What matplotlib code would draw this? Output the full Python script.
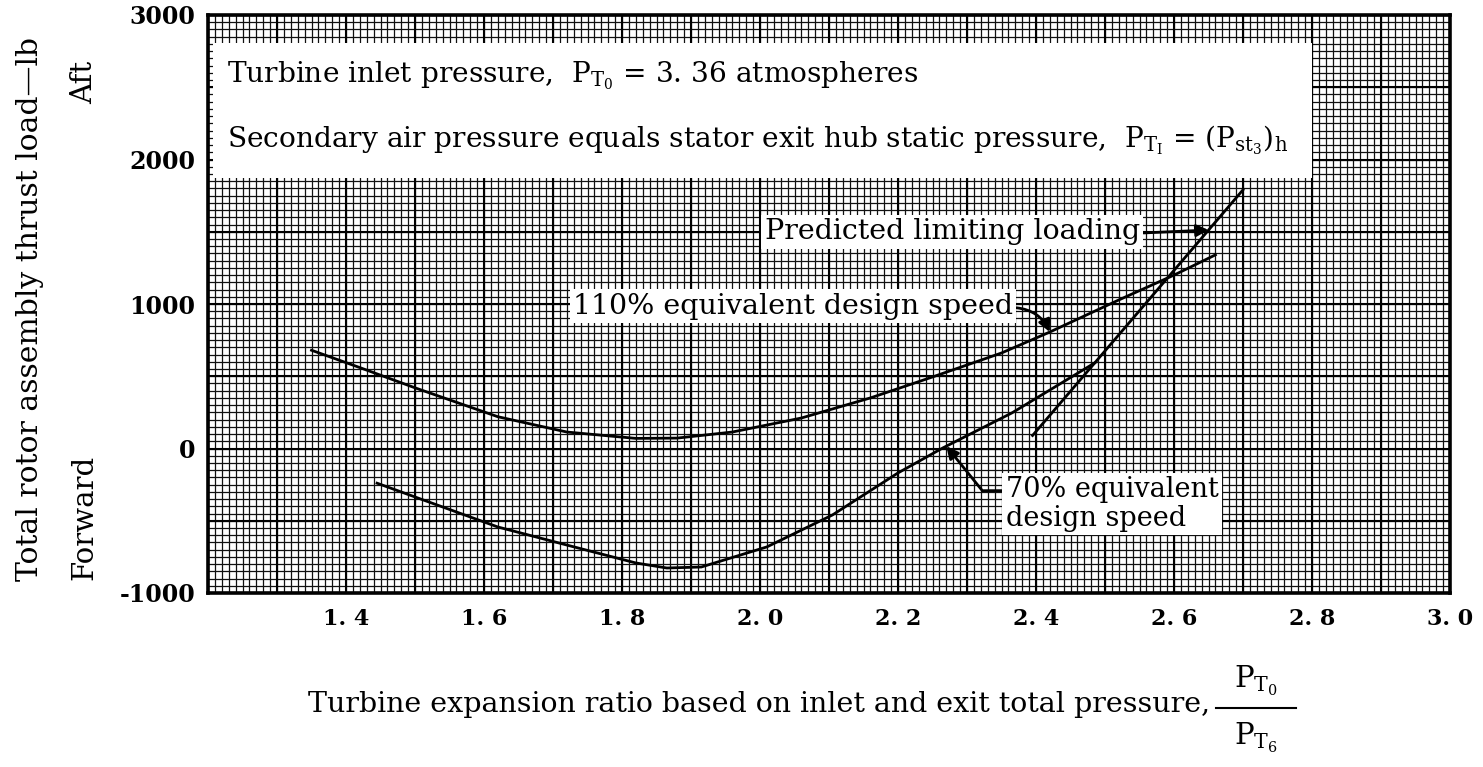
import numpy as np
import matplotlib
matplotlib.use("Agg")
import matplotlib.pyplot as plt
from matplotlib.patches import Rectangle
from matplotlib.lines import Line2D

plt.rcParams["font.family"] = ["DejaVu Serif"]
plt.rcParams["mathtext.fontset"] = "dejavuserif"

# Thrust load vs. turbine expansion ratio
ratio_110 = [1.35, 1.42, 1.50, 1.62, 1.72, 1.82, 1.88, 1.96, 2.06, 2.16, 2.25, 2.35,
             2.42, 2.52, 2.60, 2.66]
load_110 = [680, 560, 420, 220, 114, 70, 72, 114, 211, 350, 495, 661,
            806, 1028, 1200, 1340]

ratio_70 = [1.445, 1.52, 1.62, 1.72, 1.82, 1.865, 1.915, 2.01, 2.105, 2.20, 2.265,
            2.365, 2.485]
load_70 = [-240, -370, -543, -668, -792, -827, -820, -681, -460, -169, 4,
           246, 592]

limit_ratio = [2.395, 2.70]
limit_load = [90, 1790]

x_ticks = [1.4, 1.6, 1.8, 2.0, 2.2, 2.4, 2.6, 2.8, 3.0]
x_tick_labels = ["1. 4", "1. 6", "1. 8", "2. 0", "2. 2", "2. 4", "2. 6", "2. 8", "3. 0"]
y_ticks = [-1000, 0, 1000, 2000, 3000]
y_tick_labels = ["-1000", "0", "1000", "2000", "3000"]

W, H = 1483, 767
fig = plt.figure(figsize=(W / 100, H / 100), dpi=100)
ax = fig.add_axes([208 / W, 1 - 593 / H, (1450 - 208) / W, (593 - 15) / H])
ax.set_xlim(1.2, 3.0)
ax.set_ylim(-1000, 3000)

# graph-paper grid
for xv in np.arange(1.2, 3.0001, 0.01):
    ax.axvline(xv, color="#111111", lw=0.9, zorder=0.5)
for yv in np.arange(-1000, 3001, 50):
    ax.axhline(yv, color="#111111", lw=0.9, zorder=0.5)
for xv in np.arange(1.2, 3.0001, 0.1):
    ax.axvline(xv, color="black", lw=1.5, zorder=0.6)
for yv in np.arange(-1000, 3001, 500):
    ax.axhline(yv, color="black", lw=1.5, zorder=0.6)

for s in ax.spines.values():
    s.set_linewidth(2.6)
    s.set_zorder(5)

ax.set_xticks(x_ticks)
ax.set_xticklabels(x_tick_labels, fontsize=16, fontweight="bold")
ax.set_yticks(y_ticks)
ax.set_yticklabels(y_tick_labels, fontsize=17, fontweight="bold")
ax.tick_params(length=0, pad=9)
ax.tick_params(axis="x", pad=11)

# header box
ax.add_patch(Rectangle((1.207, 1872), 2.80 - 1.207, 2806 - 1872, facecolor="white",
                       edgecolor="none", zorder=2))
ax.text(1.2275, 2536, r"Turbine inlet pressure,  $\mathrm{P_{T_0}}$ = 3. 36 atmospheres",
        fontsize=20.2, ha="left", va="baseline", zorder=4)
ax.text(1.2275, 2087,
        r"Secondary air pressure equals stator exit hub static pressure,  "
        r"$\mathrm{P_{T_I}}$ = $\left(\mathrm{P_{st_3}}\right)_\mathrm{h}$",
        fontsize=20.2, ha="left", va="baseline", zorder=4)

# curves
ax.plot(ratio_110, load_110, color="black", lw=2.0, zorder=3)
ax.plot(ratio_70, load_70, color="black", lw=2.0, zorder=3)
ax.plot(limit_ratio, limit_load, color="black", lw=2.0, zorder=3)

box = dict(boxstyle="square,pad=0.12", fc="white", ec="none")
arrow = dict(arrowstyle="-|>", color="black", lw=2, mutation_scale=18, shrinkA=0, shrinkB=0)

tip_y = 1512
tip_x = float(np.interp(tip_y, limit_load, limit_ratio))
ax.annotate("Predicted limiting loading", xy=(tip_x, tip_y), xytext=(2.007, 1500),
            fontsize=20.5, ha="left", va="center", bbox=box, zorder=4,
            arrowprops=dict(arrow, relpos=(1.0, 0.45)))

tx = 2.42
ax.annotate("110% equivalent design speed", xy=(tx, float(np.interp(tx, ratio_110, load_110))),
            xytext=(1.729, 985), fontsize=20.5, ha="left", va="center", bbox=box, zorder=4,
            arrowprops=dict(arrow, relpos=(1.0, 0.45), connectionstyle="arc3,rad=-0.3"))

tx = 2.27
ax.annotate("70% equivalent\ndesign speed", xy=(tx, float(np.interp(tx, ratio_70, load_70))),
            xytext=(2.356, -385), fontsize=19.5, ha="left", va="center", bbox=box, zorder=4,
            linespacing=1.1,
            arrowprops=dict(arrow, relpos=(0.0, 0.74),
                            connectionstyle="angle,angleA=0,angleB=-51,rad=0"))

# axis titles
fig.text(30 / W, 1 - 309 / H, "Total rotor assembly thrust load\u2014lb", rotation=90,
         fontsize=21.5, ha="center", va="center")
fig.text(84 / W, 1 - 82 / H, "Aft", rotation=90, fontsize=21, ha="center", va="center")
fig.text(84 / W, 1 - 517 / H, "Forward", rotation=90, fontsize=21, ha="center", va="center")

fig.text(1210 / W, 1 - 705 / H,
         "Turbine expansion ratio based on inlet and exit total pressure,",
         fontsize=20.5, ha="right", va="center")
fig.text(1256 / W, 1 - 681 / H, r"$\mathrm{P_{T_0}}$", fontsize=21, ha="center", va="center")
fig.text(1256 / W, 1 - 738 / H, r"$\mathrm{P_{T_6}}$", fontsize=21, ha="center", va="center")
fig.add_artist(Line2D([1216 / W, 1296 / W], [1 - 708 / H, 1 - 708 / H], color="black", lw=1.5))

fig.savefig("out.png", dpi=100)
